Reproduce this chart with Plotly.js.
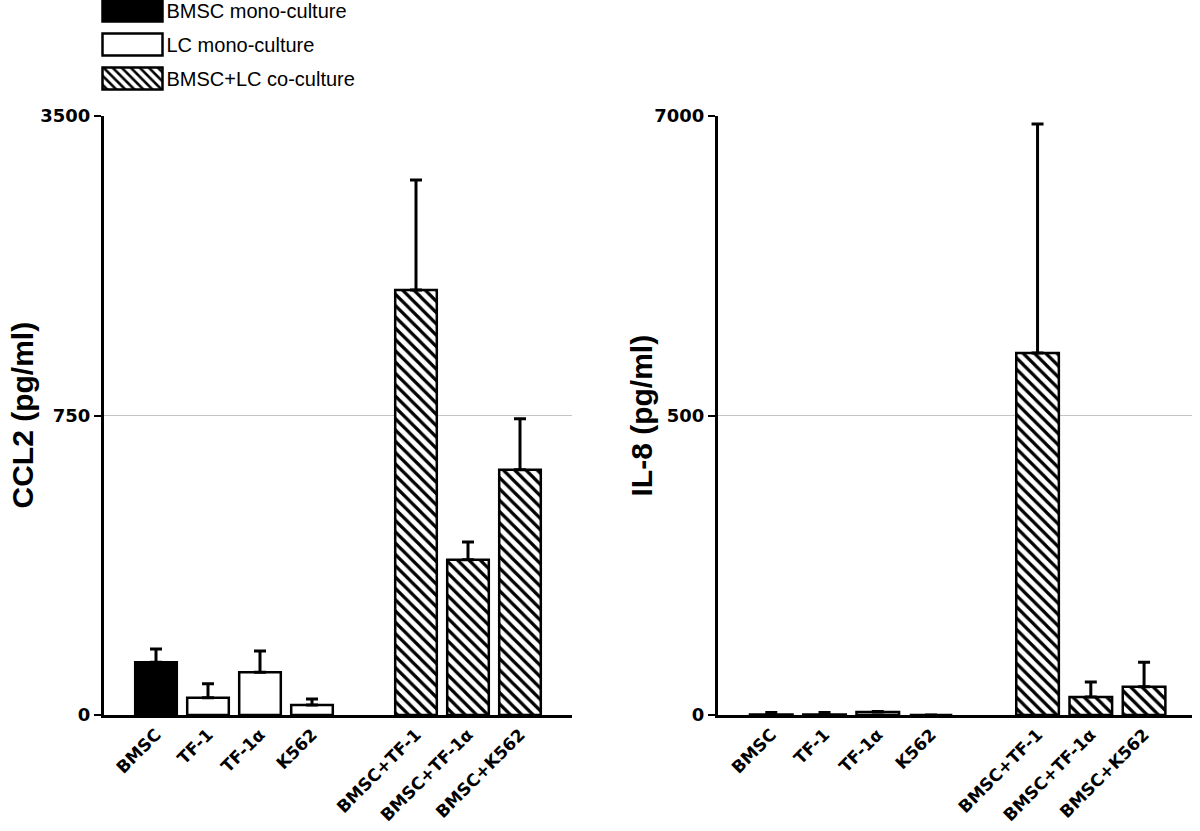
<!DOCTYPE html>
<html>
<head>
<meta charset="utf-8">
<script src="https://cdn.plot.ly/plotly-3.0.1.min.js"></script>
<style>
html,body{margin:0;padding:0;background:#fff;}
#chart{width:1200px;height:831px;}
</style>
</head>
<body>
<div id="chart"></div>
<script>
// ---- data ----
const categories = ["BMSC", "TF-1", "TF-1α", "K562", "BMSC+TF-1", "BMSC+TF-1α", "BMSC+K562"];
const groupOf = ["BMSC mono-culture", "LC mono-culture", "LC mono-culture", "LC mono-culture",
                 "BMSC+LC co-culture", "BMSC+LC co-culture", "BMSC+LC co-culture"];
const seriesNames = ["BMSC mono-culture", "LC mono-culture", "BMSC+LC co-culture"];

const ccl2Mean = [132, 43, 107, 25, 1902, 389, 614];
const ccl2Err  = [33, 35, 53, 15, 1010, 44, 128];
const il8Mean  = [1, 1, 5, 0, 1856, 30, 47];
const il8Err   = [3, 3, 1, 0, 4970, 25, 41];

const ccl2Ticks = [0, 750, 3500];   // broken axis: lower half 0-750, upper half 750-3500
const il8Ticks  = [0, 500, 7000];   // broken axis: lower half 0-500, upper half 500-7000

// category slots: one empty slot separates mono-cultures from co-cultures
const slot = categories.map((c, i) => (i < 4 ? i : i + 1));

// piecewise-linear (broken) scale: [t0,t1] fills the lower half, [t1,t2] the upper half
function brokenScale(t) {
  return v => (v <= t[1] ? v : t[1] + (v - t[1]) * (t[1] - t[0]) / (t[2] - t[1]));
}

const seriesStyle = {
  "BMSC mono-culture": {color: "#000000"},
  "LC mono-culture": {color: "#ffffff"},
  "BMSC+LC co-culture": {color: "#ffffff",
    pattern: {shape: "\\", fgcolor: "#000000", bgcolor: "#ffffff", size: 8, solidity: 0.4, fillmode: "replace"}}
};

function panelTraces(mean, err, ticks, xa, ya, legend) {
  const f = brokenScale(ticks);
  return seriesNames.map((s, si) => {
    const idx = categories.map((c, i) => i).filter(i => groupOf[i] === s);
    const st = seriesStyle[s];
    const marker = {color: st.color, line: {color: "#000000", width: 2.5}};
    if (st.pattern) marker.pattern = st.pattern;
    return {
      type: "bar",
      name: s,
      legendgroup: "g" + si,
      showlegend: legend,
      x: idx.map(i => slot[i]),
      y: idx.map(i => f(mean[i])),
      width: 0.8,
      marker: marker,
      error_y: {type: "data", symmetric: false,
                array: idx.map(i => f(mean[i] + err[i]) - f(mean[i])),
                arrayminus: idx.map(() => 0),
                color: "#000000", thickness: 3, width: 6},
      xaxis: xa, yaxis: ya,
      hoverinfo: "skip"
    };
  });
}

const traces = [].concat(
  panelTraces(ccl2Mean, ccl2Err, ccl2Ticks, "x", "y", true),
  panelTraces(il8Mean, il8Err, il8Ticks, "x2", "y2", false)
);

const tickFontY = {family: "DejaVu Sans, Arial, sans-serif", size: 18, color: "#000", weight: "bold"};
const tickFontX = {family: "DejaVu Sans, Arial, sans-serif", size: 17, color: "#000", weight: "bold"};
const gridColor = "#c4c4c4";

function xAxis(domain, range, anchor) {
  return {domain: domain, range: range, anchor: anchor,
    tickmode: "array", tickvals: slot, ticktext: categories, tickangle: -45,
    tickfont: tickFontX, ticks: "", showline: true, linecolor: "#000", linewidth: 3,
    showgrid: false, zeroline: false, automargin: false, fixedrange: true};
}
function yAxis(ticks, anchor) {
  const f = brokenScale(ticks);
  return {domain: [0, 1], range: [f(ticks[0]), f(ticks[2])], anchor: anchor,
    tickmode: "array", tickvals: ticks.map(f), ticktext: ticks.map(String),
    ticks: "outside", ticklen: 7, tickwidth: 2, tickcolor: "#000", tickfont: tickFontY,
    ticklabelstandoff: 0,
    showline: true, linecolor: "#000", linewidth: 3, showgrid: true, gridcolor: gridColor, gridwidth: 1.5,
    zeroline: false, automargin: false, fixedrange: true};
}

const figH = 831, topPx = 116, basePx = 715;
const plotH = basePx - topPx;

const layout = {
  width: 1200, height: figH,
  margin: {l: 0, r: 0, t: topPx, b: figH - basePx, autoexpand: false},
  paper_bgcolor: "#fff", plot_bgcolor: "#fff",
  barmode: "overlay",
  font: {family: "Liberation Sans, Arial, sans-serif", color: "#000"},
  xaxis: xAxis([104/1200, 572/1200], [-1, 8], "y"),
  yaxis: yAxis(ccl2Ticks, "x"),
  xaxis2: xAxis([718/1200, 1192/1200], [-1, 7.9], "y2"),
  yaxis2: yAxis(il8Ticks, "x2"),
  showlegend: true,
  legend: {x: 98.5/1200, xanchor: "left", y: 1 + (topPx + 9) / plotH, yanchor: "top",
    bgcolor: "rgba(0,0,0,0)", borderwidth: 0, itemwidth: 58, tracegroupgap: 5,
    font: {family: "Liberation Sans, Arial, sans-serif", size: 20, color: "#000"},
    itemclick: false, itemdoubleclick: false},
  annotations: [
    {text: "CCL2 (pg/ml)", xref: "paper", yref: "paper", x: 22/1200, y: 0.5, textangle: -90,
     showarrow: false, xanchor: "center", yanchor: "middle",
     font: {family: "Liberation Sans, Arial, sans-serif", size: 30, color: "#000", weight: "bold"}},
    {text: "IL-8 (pg/ml)", xref: "paper", yref: "paper", x: 641/1200, y: 0.5, textangle: -90,
     showarrow: false, xanchor: "center", yanchor: "middle",
     font: {family: "Liberation Sans, Arial, sans-serif", size: 30, color: "#000", weight: "bold"}}
  ]
};

Plotly.newPlot("chart", traces, layout, {staticPlot: true, displayModeBar: false}).then(gd => {
  // widen legend swatches to match the reference's rectangular keys
  gd.querySelectorAll(".legend .legendpoints path").forEach(p => {
    p.setAttribute("d", "M-30,-11H30V11H-30Z");
  });
});
</script>
</body>
</html>
